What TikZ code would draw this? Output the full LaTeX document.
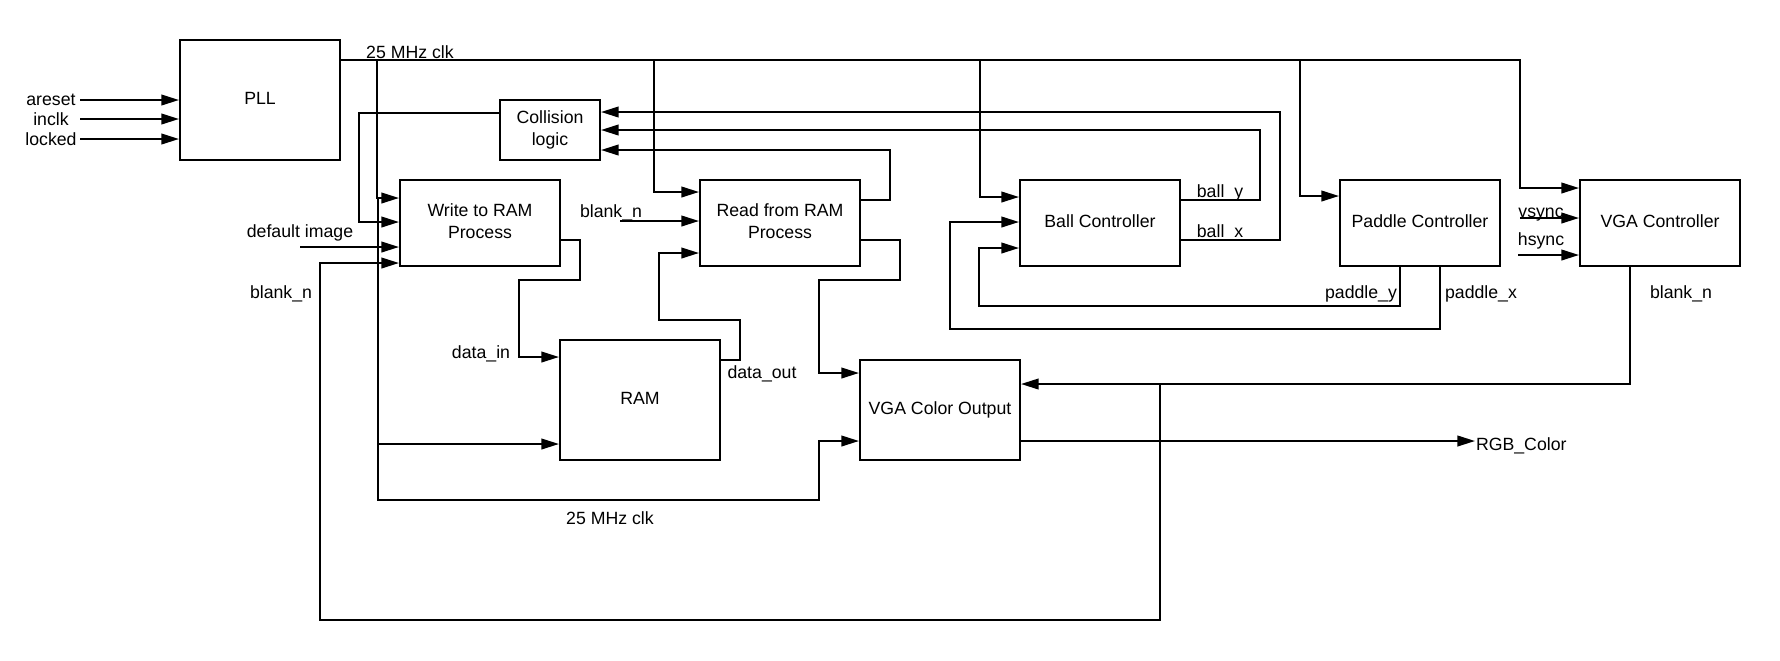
\documentclass[tikz,border=0pt]{standalone}
\usepackage{fontspec}
\setmainfont{Liberation Sans}
\usetikzlibrary{arrows.meta}
\begin{document}
\begin{tikzpicture}[x=0.5pt,y=-0.5pt,line width=1pt,
    font=\fontsize{8.85pt}{10.7pt}\selectfont,
    blk/.style={draw,align=center,inner sep=0pt,text depth=2pt,minimum width=80pt,minimum height=43pt},
    lbl/.style={inner sep=1pt},
    sig/.style={-{Triangle[length=8.8pt,width=5.3pt]}}]
  \useasboundingbox (0,0) rectangle (1780,660);
  % blocks
  \node[blk,minimum height=60pt] (pll) at (260,100) {PLL};
  \node[blk,minimum width=50pt,minimum height=30pt] (coll) at (550,130) {Collision\\logic};
  \node[blk] (write) at (480,223) {Write to RAM\\Process};
  \node[blk] (read) at (780,223) {Read from RAM\\Process};
  \node[blk,minimum height=60pt] (ram) at (640,400) {RAM};
  \node[blk,minimum height=50pt] (vgacol) at (940,410) {VGA Color Output};
  \node[blk] (ball) at (1100,223) {Ball Controller};
  \node[blk] (paddle) at (1420,223) {Paddle Controller};
  \node[blk] (vgactl) at (1660,223) {VGA Controller};
  % PLL inputs
  \foreach \n/\y in {areset/100,inclk/119,locked/139}{
    \node[lbl] (\n) at (51,\y) {\n};
    \coordinate (\n-in) at (80,\y);
    \draw[sig] (\n-in) -- (pll.west |- \n-in);
  }
  % 25 MHz clk
  \node[lbl] (clktop) at (410,52) {25 MHz clk};
  \draw[sig] (pll.east |- 0,60) -| (1520,188) -- (vgactl.west |- 0,188);
  \draw[sig] (377,60) |- (write.west |- 0,198);
  \draw[sig] (654,60) |- (read.west |- 0,192);
  \draw[sig] (980,60) |- (ball.west |- 0,197);
  \draw[sig] (1300,60) |- (paddle.west |- 0,196);
  \draw[sig] (378,198) |- (819,500) -- (819,441) -- (vgacol.west |- 0,441);
  \draw[sig] (378,444) -- (ram.west |- 0,444);
  \node[lbl] (clkbot) at (610,518) {25 MHz clk};
  % collision logic
  \draw[sig] (coll.west |- 0,113) -| (359,222) -- (write.west |- 0,222);
  \draw[sig] (ball.east |- 0,240) -| (1280,112) -- (coll.east |- 0,112);
  \draw[sig] (ball.east |- 0,200) -| (1260,130) -- (coll.east |- 0,130);
  \draw[sig] (read.east |- 0,200) -| (890,150) -- (coll.east |- 0,150);
  \node[lbl] (bally) at (1220,193) {ball\_y};
  \node[lbl] (ballx) at (1220,233) {ball\_x};
  % write to RAM
  \node[lbl] (dimg) at (300,233) {default image};
  \coordinate (dimg-in) at (300,247);
  \draw[sig] (dimg-in) -- (write.west |- dimg-in);
  \draw[sig] (write.east |- 0,240) -| (580,280) -| (519,357) -- (ram.west |- 0,357);
  \node[lbl] (datain) at (481,354) {data\_in};
  % blank_n
  \node[lbl] (blankw) at (281,294) {blank\_n};
  \node[lbl] (blankv) at (1681,294) {blank\_n};
  \draw[sig] (vgactl.south -| 1630,0) |- (vgacol.east |- 0,384);
  \draw[sig] (1160,384) |- (320,620) |- (write.west |- 0,263);
  % read from RAM
  \node[lbl] (blankr) at (611,213) {blank\_n};
  \coordinate (blankr-in) at (620,221);
  \draw[sig] (blankr-in) -- (read.west |- blankr-in);
  \draw[sig] (ram.east |- 0,360) -| (740,320) -| (659,253) -- (read.west |- 0,253);
  \node[lbl] (dataout) at (762,374) {data\_out};
  \draw[sig] (read.east |- 0,240) -| (900,280) -| (819,373) -- (vgacol.west |- 0,373);
  % paddle
  \draw[sig] (paddle.south -| 1440,0) |- (950,329) |- (ball.west |- 0,222);
  \draw[sig] (paddle.south -| 1400,0) |- (979,306) |- (ball.west |- 0,248);
  \node[lbl] (paddley) at (1361,294) {paddle\_y};
  \node[lbl] (paddlex) at (1481,294) {paddle\_x};
  % VGA controller
  \node[lbl] (vsync) at (1541,215) {vsync};
  \node[lbl] (hsync) at (1541,241) {hsync};
  \coordinate (vsync-in) at (1520,218);
  \coordinate (hsync-in) at (1518,255);
  \draw[sig] (vsync-in) -- (vgactl.west |- vsync-in);
  \draw[sig] (hsync-in) -- (vgactl.west |- hsync-in);
  % output
  \node[anchor=west,inner sep=0pt] (rgb) at (1475,446) {RGB\_Color};
  \draw[sig] (vgacol.east |- 0,441) -- (rgb.west |- 0,441);
\end{tikzpicture}
\end{document}
